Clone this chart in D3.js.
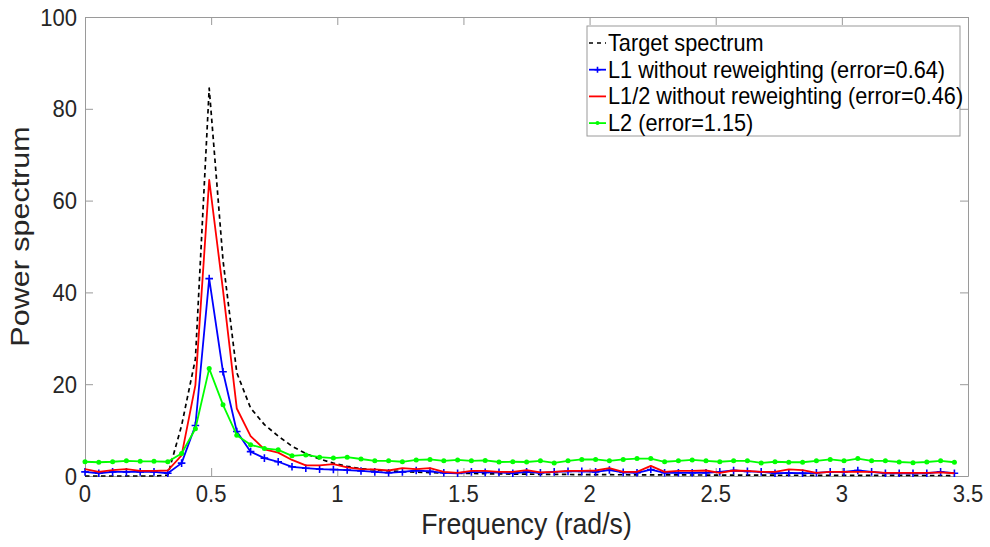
<!DOCTYPE html>
<html>
<head>
<meta charset="utf-8">
<script src="https://cdn.jsdelivr.net/npm/d3@7"></script>
<style>
  html, body { margin: 0; padding: 0; background: #fff; }
  svg { display: block; font-family: "Liberation Sans", Arial, Helvetica, sans-serif; }
</style>
</head>
<body>
<svg id="chart" width="990" height="547"></svg>
<script>
// ---------------- data ----------------
const frequency = [0, 0.0547, 0.1094, 0.1641, 0.2188, 0.2735, 0.3282, 0.3829, 0.4376, 0.4923,
  0.547, 0.6017, 0.6564, 0.7111, 0.7658, 0.8205, 0.8752, 0.9299, 0.9846, 1.0393,
  1.094, 1.1487, 1.2034, 1.2581, 1.3128, 1.3675, 1.4222, 1.4769, 1.5316, 1.5863,
  1.641, 1.6957, 1.7504, 1.8051, 1.8598, 1.9145, 1.9692, 2.0239, 2.0786, 2.1333,
  2.188, 2.2427, 2.2974, 2.3521, 2.4068, 2.4615, 2.5162, 2.5709, 2.6256, 2.6803,
  2.735, 2.7897, 2.8444, 2.8991, 2.9538, 3.0085, 3.0632, 3.1179, 3.1726, 3.2273,
  3.282, 3.3367, 3.3914, 3.4461];

const targetSpectrum = [0, 0, 0, 0, 0, 0, 0.2, 11, 25.5, 84.5,
  47, 22.5, 14.8, 11.2, 8.7, 6.5, 4.9, 3.7, 2.8, 2.1,
  1.6, 1.3, 1.1, 0.95, 0.85, 0.75, 0.65, 0.6, 0.55, 0.5,
  0.45, 0.42, 0.4, 0.37, 0.35, 0.33, 0.31, 0.3, 0.28, 0.27,
  0.26, 0.25, 0.24, 0.23, 0.22, 0.21, 0.2, 0.19, 0.18, 0.18,
  0.17, 0.16, 0.16, 0.15, 0.15, 0.14, 0.14, 0.13, 0.13, 0.12,
  0.12, 0.11, 0.11, 0.1];

const l1Spectrum = [0.9, 0.6, 0.9, 0.9, 0.9, 0.9, 0.6, 2.8, 11.0, 43.0,
  22.7, 9.7, 5.3, 3.9, 3.1, 2.0, 1.7, 1.5, 1.4, 1.3,
  1.1, 0.9, 0.7, 0.9, 1.2, 1.0, 0.7, 0.6, 0.9, 0.8,
  0.8, 0.6, 0.9, 0.7, 0.9, 1.0, 1.0, 0.9, 1.3, 0.8,
  0.7, 1.4, 0.7, 0.7, 0.7, 0.7, 0.9, 1.2, 1.0, 0.9,
  0.6, 0.7, 0.6, 0.7, 0.9, 0.9, 1.2, 0.9, 0.6, 0.6,
  0.6, 0.6, 0.9, 0.6];

const lHalfSpectrum = [1.5, 0.9, 1.3, 1.5, 1.1, 1.1, 1.2, 4.5, 19.8, 64.5,
  40.5, 14.7, 8.7, 5.8, 5.1, 3.5, 2.3, 2.3, 2.6, 1.9,
  1.5, 1.45, 1.2, 1.7, 1.5, 1.7, 0.9, 0.7, 1.1, 1.1,
  0.9, 0.9, 1.3, 0.8, 0.9, 1.1, 1.1, 1.2, 1.7, 0.9,
  0.9, 2.2, 0.9, 1.1, 1.1, 1.2, 0.7, 1.2, 1.1, 0.9,
  0.9, 1.45, 1.3, 0.7, 0.9, 0.9, 0.9, 0.9, 0.7, 0.7,
  0.7, 0.7, 0.8, 0.6];

const l2Spectrum = [3.1, 3.0, 3.1, 3.3, 3.2, 3.2, 3.1, 4.9, 10.3, 23.4,
  15.5, 8.9, 6.8, 6.0, 5.7, 4.4, 4.6, 4.1, 3.9, 4.1,
  3.7, 3.3, 3.3, 3.1, 3.5, 3.6, 3.3, 3.5, 3.3, 3.4,
  3.05, 3.1, 3.05, 3.3, 2.85, 3.3, 3.6, 3.6, 3.3, 3.6,
  3.8, 3.8, 3.1, 3.3, 3.5, 3.3, 3.1, 3.3, 3.3, 2.85,
  3.1, 3.0, 3.0, 3.3, 3.6, 3.3, 3.8, 3.3, 3.3, 3.05,
  2.9, 3.05, 3.3, 3.0];

const seriesNames = ["Target spectrum", "L1 without reweighting (error=0.64)",
  "L1/2 without reweighting (error=0.46)", "L2 (error=1.15)"];
const xTicks = [0, 0.5, 1, 1.5, 2, 2.5, 3, 3.5];
const yTicks = [0, 20, 40, 60, 80, 100];
const xLabel = "Frequency (rad/s)";
const yLabel = "Power spectrum";

// ---------------- layout ----------------
(function () {
const svg = d3.select("#chart");
const pL = 85, pR = 968, pT = 17, pB = 476;
const sx = 0.92;            // horizontal squeeze of glyphs
const axisColor = "#9a9a9a";
const textColor = "#262626";

const x = d3.scaleLinear().domain([0, 3.5]).range([pL, pR]);
const y = d3.scaleLinear().domain([0, 100]).range([pB, pT]);

const tickLen = 8;
const xAxisB = d3.axisBottom(x).tickValues(xTicks).tickSizeInner(-tickLen).tickSizeOuter(0).tickFormat("");
const xAxisT = d3.axisTop(x).tickValues(xTicks).tickSizeInner(-tickLen).tickSizeOuter(0).tickFormat("");
const yAxisL = d3.axisLeft(y).tickValues(yTicks).tickSizeInner(-tickLen).tickSizeOuter(0).tickFormat("");
const yAxisR = d3.axisRight(y).tickValues(yTicks).tickSizeInner(-tickLen).tickSizeOuter(0).tickFormat("");

function styleAxis(g) {
  g.selectAll("path").attr("stroke", axisColor).attr("stroke-width", 1);
  g.selectAll("line").attr("stroke", axisColor).attr("stroke-width", 1);
}
const gAx = svg.append("g");
gAx.append("g").attr("transform", `translate(0,${pB})`).call(xAxisB).call(styleAxis);
gAx.append("g").attr("transform", `translate(0,${pT})`).call(xAxisT).call(styleAxis);
gAx.append("g").attr("transform", `translate(${pL},0)`).call(yAxisL).call(styleAxis);
gAx.append("g").attr("transform", `translate(${pR},0)`).call(yAxisR).call(styleAxis);

const tickFont = 24;
svg.append("g").selectAll("text").data(xTicks).join("text")
  .attr("transform", d => `translate(${x(d)},${pB + 26}) scale(${sx},1)`)
  .attr("text-anchor", "middle").attr("font-size", tickFont).attr("fill", textColor)
  .text(d => String(d));
svg.append("g").selectAll("text").data(yTicks).join("text")
  .attr("transform", d => `translate(${pL - 8},${y(d) + 8.5}) scale(${sx},1)`)
  .attr("text-anchor", "end").attr("font-size", tickFont).attr("fill", textColor)
  .text(d => d);

svg.append("text")
  .attr("transform", `translate(${(pL + pR) / 2},534) scale(${sx},1)`)
  .attr("text-anchor", "middle").attr("font-size", 29).attr("fill", textColor)
  .text(xLabel);
svg.append("text")
  .attr("transform", `translate(29,${(pT + pB) / 2 - 10}) rotate(-90) scale(1,0.86)`)
  .attr("text-anchor", "middle").attr("font-size", 30.5).attr("fill", textColor)
  .text(yLabel);

const line = d3.line().x(d => x(d[0])).y(d => y(d[1]));
const plot = svg.append("g");

const series = [
  { name: seriesNames[0], values: targetSpectrum, color: "#000000", dash: "4.5,3.5", marker: "none" },
  { name: seriesNames[1], values: l1Spectrum, color: "#0000ff", dash: null, marker: "plus" },
  { name: seriesNames[2], values: lHalfSpectrum, color: "#ff0000", dash: null, marker: "none" },
  { name: seriesNames[3], values: l2Spectrum, color: "#00ff00", dash: null, marker: "dot" }
];

function drawMarkers(g, pts, s) {
  if (s.marker === "plus") {
    const m = 3.8;
    g.selectAll(null).data(pts).join("path")
      .attr("d", d => `M${x(d[0]) - m},${y(d[1])}H${x(d[0]) + m}M${x(d[0])},${y(d[1]) - m}V${y(d[1]) + m}`)
      .attr("stroke", s.color).attr("stroke-width", 1.6).attr("fill", "none");
  } else if (s.marker === "dot") {
    g.selectAll(null).data(pts).join("circle")
      .attr("cx", d => x(d[0])).attr("cy", d => y(d[1])).attr("r", 2.5)
      .attr("fill", s.color);
  }
}

series.forEach(s => {
  const pts = frequency.map((f, i) => [f, s.values[i]]);
  const g = plot.append("g");
  g.append("path").datum(pts).attr("d", line)
    .attr("fill", "none").attr("stroke", s.color)
    .attr("stroke-width", s.dash ? 1.7 : 1.8)
    .attr("stroke-dasharray", s.dash)
    .attr("stroke-linejoin", "round");
  drawMarkers(g, pts, s);
});

const lgX = 587, lgY = 26, lgW = 373, lgH = 110;
const legend = svg.append("g");
legend.append("rect").attr("x", lgX).attr("y", lgY).attr("width", lgW).attr("height", lgH)
  .attr("fill", "#fff").attr("stroke", axisColor).attr("stroke-width", 1);
series.forEach((s, i) => {
  const cy = 43 + i * 26.7;
  const gl = legend.append("g");
  gl.append("line").attr("x1", lgX + 2).attr("x2", lgX + 19).attr("y1", cy).attr("y2", cy)
    .attr("stroke", s.color).attr("stroke-width", s.dash ? 1.7 : 1.8)
    .attr("stroke-dasharray", s.dash ? "4,4" : null);
  if (s.marker === "plus") {
    gl.append("path").attr("d", `M${lgX + 10.5 - 3},${cy}H${lgX + 10.5 + 3}M${lgX + 10.5},${cy - 3}V${cy + 3}`)
      .attr("stroke", s.color).attr("stroke-width", 1.6);
  } else if (s.marker === "dot") {
    gl.append("circle").attr("cx", lgX + 10.5).attr("cy", cy).attr("r", 2).attr("fill", s.color);
  }
  gl.append("text")
    .attr("transform", `translate(${lgX + 21},${cy + 8}) scale(${sx},1)`)
    .attr("font-size", 23.6).attr("fill", "#000")
    .text(s.name);
});
})();
</script>
</body>
</html>
